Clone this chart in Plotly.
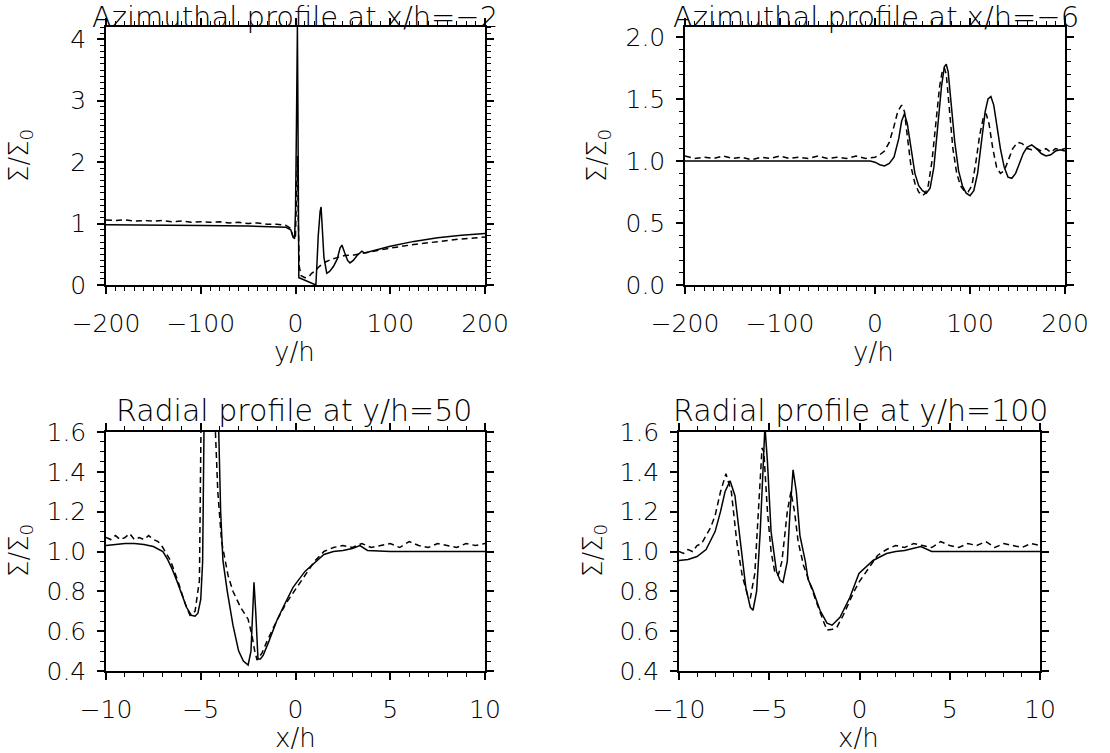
import plotly.graph_objects as go

W, H = 1110, 753

# ---------------- Data ----------------
# Panel 1: Azimuthal profile at x/h=-2
p1_y_solid = [-200, -150, -100, -50, -20, -10, -5, -3, -1, 0, 1, 2, 2.5, 3, 3.5, 5, 10, 15, 20, 21.5,
              22.5, 24, 26, 27, 28, 30, 33, 36, 40, 44, 47, 49, 52, 55, 57.5, 61, 65, 70, 73, 80,
              100, 125, 150, 175, 200]
p1_s_solid = [0.98, 0.98, 0.97, 0.96, 0.95, 0.94, 0.9, 0.8, 0.75, 1.2, 2.6, 4.2, 3.0, 0.6, 0.12, 0.11, 0.08, 0.05, 0.02, 0.0,
              0.3, 0.8, 1.2, 1.27, 1.0, 0.45, 0.19, 0.22, 0.3, 0.42, 0.6, 0.65, 0.52, 0.4, 0.36, 0.4, 0.48, 0.55, 0.52, 0.55,
              0.63, 0.71, 0.77, 0.81, 0.84]

p1_y_dash = [-200, -190, -180, -170, -160, -150, -140, -130, -120, -110, -100, -90, -80, -70, -60, -50, -40, -30, -20, -10,
             -5, -2, 0, 1, 2, 3, 4, 6, 10, 14, 17, 20, 25, 31, 38, 45, 52, 62, 75, 90, 100, 125, 150, 175, 200]
p1_s_dash = [1.06, 1.05, 1.06, 1.04, 1.05, 1.04, 1.05, 1.03, 1.04, 1.02, 1.03, 1.02, 1.03, 1.01, 1.02, 1.0, 1.01, 0.99, 0.99, 0.97,
             0.92, 0.75, 0.8, 1.5, 2.1, 1.0, 0.3, 0.15, 0.12, 0.13, 0.19, 0.22, 0.3, 0.37, 0.42, 0.45, 0.48, 0.49, 0.53, 0.57, 0.6, 0.66, 0.71, 0.75, 0.78]

# Panel 2: Azimuthal profile at x/h=-6
p2_y_solid = [-200, -100, -50, -20, -5, 0, 5, 10, 15, 20, 25, 28, 31, 34, 38, 42, 46, 50, 54, 58, 62, 66, 70, 73, 75,
              77, 80, 84, 88, 92, 96, 100, 104, 108, 112, 116, 119, 122, 125, 128, 132, 136, 140, 144, 148, 152, 156,
              160, 165, 170, 175, 180, 185, 190, 195, 200]
p2_s_solid = [1.0, 1.0, 1.0, 1.0, 1.0, 0.99, 0.97, 0.96, 0.98, 1.03, 1.18, 1.32, 1.38, 1.3, 1.08, 0.9, 0.8, 0.76, 0.74, 0.78,
              0.95, 1.25, 1.6, 1.76, 1.78, 1.72, 1.5, 1.15, 0.92, 0.8, 0.74, 0.72, 0.76, 0.9, 1.15, 1.4, 1.5, 1.52, 1.45, 1.3,
              1.1, 0.95, 0.87, 0.86, 0.9, 0.98, 1.06, 1.11, 1.13, 1.1, 1.06, 1.04, 1.05, 1.08, 1.09, 1.08]

p2_y_dash = [-200, -190, -180, -170, -160, -150, -140, -130, -120, -110, -100, -90, -80, -70, -60, -50, -40, -30, -20, -10,
             0, 5, 10, 15, 20, 24, 28, 31, 34, 38, 42, 46, 50, 53, 56, 60, 64, 68, 71, 73, 75, 78, 82, 86, 90, 94, 98,
             102, 106, 110, 114, 117, 120, 124, 128, 132, 136, 140, 145, 150, 155, 160, 165, 170, 175, 180, 185, 190, 195, 200]
p2_s_dash = [1.04, 1.02, 1.03, 1.02, 1.04, 1.02, 1.03, 1.01, 1.03, 1.02, 1.04, 1.02, 1.03, 1.02, 1.04, 1.02, 1.03, 1.02, 1.04, 1.02,
             1.03, 1.05, 1.08, 1.15, 1.28, 1.4, 1.45, 1.4, 1.2, 0.95, 0.82, 0.75, 0.72, 0.74, 0.8, 1.0, 1.3, 1.6, 1.73, 1.75,
             1.7, 1.45, 1.1, 0.9, 0.8, 0.76, 0.75, 0.8, 0.98, 1.2, 1.35, 1.38, 1.3, 1.1, 0.95, 0.9, 0.92, 1.0, 1.1, 1.15,
             1.14, 1.1, 1.09, 1.1, 1.08, 1.1, 1.07, 1.1, 1.09, 1.1]

# Panel 3: Radial profile at y/h=50
p3_x_solid = [-10, -9.5, -9, -8.5, -8, -7.5, -7, -6.75, -6.5, -6.25, -6, -5.75, -5.5, -5.3, -5.15, -5.0, -4.9, -4.83,
              -4.5, -4.2, -4.05, -3.95, -3.83, -3.6, -3.3, -3.0, -2.75, -2.5, -2.35, -2.25, -2.19, -2.1, -1.98, -1.85,
              -1.7, -1.4, -0.98, -0.6, -0.13, 0.5, 1.13, 1.5, 2.0, 2.5, 3.0, 3.4, 3.8, 4.5, 5, 6, 7, 8, 9, 10]
p3_s_solid = [1.03, 1.035, 1.04, 1.04, 1.035, 1.025, 1.0, 0.96, 0.91, 0.85, 0.78, 0.72, 0.68, 0.675, 0.69, 0.76, 0.95, 1.6,
              2.5, 2.0, 1.6, 1.2, 0.955, 0.8, 0.63, 0.5, 0.45, 0.43, 0.5, 0.7, 0.845, 0.7, 0.46, 0.46,
              0.48, 0.55, 0.655, 0.73, 0.82, 0.9, 0.955, 0.985, 1.0, 1.005, 1.015, 1.03, 1.005, 1.0, 1.0, 1.0, 1.0, 1.0, 1.0, 1.0]

p3_x_dash = [-10, -9.75, -9.5, -9.25, -9, -8.75, -8.5, -8.25, -8, -7.75, -7.5, -7.25, -7, -6.8, -6.6, -6.2, -5.83, -5.57,
             -5.3, -5.07, -4.99, -4.6, -4.25, -4.1, -3.9, -3.7, -3.56, -3.3, -2.9, -2.5, -2.3, -2.15, -2.03, -1.77, -1.5,
             -1.0, -0.5, 0, 0.5, 1.0, 1.5, 2.0, 2.5, 3.0, 3.5, 4.0, 4.5, 5.0, 5.5, 6.0, 6.5, 7.0, 7.5, 8.0, 8.5, 9.0, 9.5, 10]
p3_s_dash = [1.07, 1.06, 1.08, 1.06, 1.07, 1.09, 1.06, 1.07, 1.06, 1.08, 1.06, 1.05, 1.02, 0.99, 0.955, 0.85, 0.74, 0.68,
             0.7, 0.855, 1.6, 2.5, 1.6, 1.3, 1.05, 0.95, 0.88, 0.8, 0.72, 0.66, 0.58, 0.5, 0.455, 0.49, 0.55,
             0.65, 0.74, 0.81, 0.88, 0.95, 1.0, 1.02, 1.03, 1.02, 1.04, 1.02, 1.03, 1.04, 1.02, 1.05, 1.03, 1.02, 1.04, 1.03, 1.02, 1.04, 1.03, 1.04]

# Panel 4: Radial profile at y/h=100
p4_x_solid = [-10, -9.5, -9, -8.5, -8, -7.7, -7.45, -7.17, -6.9, -6.6, -6.3, -6.05, -5.9, -5.7, -5.5, -5.35, -5.24,
              -5.1, -4.9, -4.6, -4.4, -4.24, -4.0, -3.85, -3.68, -3.5, -3.3, -3.0, -2.85, -2.6, -2.19, -1.8, -1.52,
              -1.08, -0.53, -0.03, 0.75, 1.5, 2.0, 2.5, 3.0, 3.4, 4.0, 5, 6, 7, 8, 9, 10]
p4_s_solid = [0.955, 0.96, 0.975, 1.01, 1.1, 1.2, 1.3, 1.355, 1.28, 1.05, 0.82, 0.72, 0.705, 0.8, 1.1, 1.4, 1.63,
              1.45, 1.1, 0.9, 0.855, 0.845, 0.95, 1.2, 1.41, 1.3, 1.08, 0.95, 0.86, 0.81, 0.705, 0.64, 0.63,
              0.67, 0.77, 0.89, 0.955, 0.99, 1.0, 1.005, 1.015, 1.025, 1.0, 1.0, 1.0, 1.0, 1.0, 1.0, 1.0]

p4_x_dash = [-10, -9.75, -9.5, -9.25, -9, -8.75, -8.5, -8.25, -8, -7.7, -7.4, -7.1, -6.8, -6.5, -6.2, -6.05, -5.8, -5.6,
             -5.4, -5.3, -5.1, -4.9, -4.7, -4.5, -4.3, -4.0, -3.8, -3.6, -3.4, -3.1, -2.8, -2.4, -2.0, -1.8, -1.5,
             -1.25, -0.9, -0.7, -0.3, 0, 0.3, 0.6, 1.0, 1.5, 2.0, 2.5, 3.0, 3.5, 4.0, 4.5, 5.0, 5.5, 6.0, 6.5, 7.0,
             7.5, 8.0, 8.5, 9.0, 9.5, 10]
p4_s_dash = [1.0, 0.99, 1.01, 1.0, 1.03, 1.04, 1.08, 1.12, 1.18, 1.3, 1.39, 1.3, 1.05, 0.88, 0.78, 0.765, 0.89, 1.2,
             1.52, 1.5, 1.2, 1.0, 0.9, 0.88, 0.95, 1.2, 1.3, 1.2, 1.05, 0.93, 0.85, 0.75, 0.65, 0.605, 0.61,
             0.62, 0.68, 0.72, 0.8, 0.85, 0.89, 0.93, 0.98, 1.01, 1.03, 1.02, 1.04, 1.03, 1.02, 1.05, 1.03, 1.02, 1.04, 1.03, 1.05,
             1.02, 1.04, 1.03, 1.02, 1.04, 1.03]

titles = ["Azimuthal profile at x/h=\u22122", "Azimuthal profile at x/h=\u22126",
          "Radial profile at y/h=50", "Radial profile at y/h=100"]
xlabels = ["y/h", "y/h", "x/h", "x/h"]
ylabel = "\u03a3/\u03a3<sub>0</sub>"

# ---------------- Figure ----------------
FONT = "DejaVu Sans"
WEIGHT = 200
fig = go.Figure()

panels = [
    (p1_y_solid, p1_s_solid, p1_y_dash, p1_s_dash),
    (p2_y_solid, p2_s_solid, p2_y_dash, p2_s_dash),
    (p3_x_solid, p3_s_solid, p3_x_dash, p3_s_dash),
    (p4_x_solid, p4_s_solid, p4_x_dash, p4_s_dash),
]
for i, (xs, ys, xd, yd) in enumerate(panels):
    ax = "" if i == 0 else str(i + 1)
    fig.add_trace(go.Scatter(x=xs, y=ys, mode="lines", line=dict(color="black", width=1.5),
                             xaxis="x" + ax, yaxis="y" + ax, showlegend=False, cliponaxis=True))
    fig.add_trace(go.Scatter(x=xd, y=yd, mode="lines", line=dict(color="black", width=1.5, dash="6px,4px"),
                             xaxis="x" + ax, yaxis="y" + ax, showlegend=False, cliponaxis=True))

# pixel boxes (left, right, top, bottom)
boxes = [(106, 485, 27, 285), (685, 1065, 27, 285), (106, 485, 432, 671), (679, 1040, 432, 671)]
xranges = [[-200, 200], [-200, 200], [-10, 10], [-10, 10]]
yranges = [[0, 4.2], [0, 2.08], [0.4, 1.6], [0.4, 1.6]]
xdt = [100, 100, 5, 5]
xminor = [10, 10, 1, 1]
ydt = [1, 0.5, 0.2, 0.2]
yminor = [0.1, 0.1, 0.05, 0.05]
yfmt = ["d", ".1f", ".1f", ".1f"]

common = dict(showline=True, linecolor="black", linewidth=1.5, mirror="allticks", ticks="outside",
              ticklen=7, tickwidth=1.5, tickcolor="black", showgrid=False, zeroline=False,
              automargin=False,
              tickfont=dict(family=FONT, size=25, color="black", weight=WEIGHT))

layout = {}
for i in range(4):
    l, r, t, b = boxes[i]
    sfx = "" if i == 0 else str(i + 1)
    layout["xaxis" + sfx] = dict(
        common, domain=[l / W, r / W], anchor="y" + sfx, range=xranges[i], dtick=xdt[i], tick0=0,
        minor=dict(ticks="outside", ticklen=4, tickwidth=1, tickcolor="black", dtick=xminor[i]),
        ticklabelstandoff=8,
    )
    layout["yaxis" + sfx] = dict(
        common, domain=[1 - b / H, 1 - t / H], anchor="x" + sfx, range=yranges[i], dtick=ydt[i], tick0=0,
        tickformat=yfmt[i],
        minor=dict(ticks="outside", ticklen=4, tickwidth=1, tickcolor="black", dtick=yminor[i]),
        ticklabelstandoff=6,
    )

fig.update_layout(**layout)
fig.update_layout(width=W, height=H, margin=dict(l=0, r=0, t=0, b=0, autoexpand=False),
                  paper_bgcolor="white", plot_bgcolor="white", showlegend=False)

def ann(x, y, text, size, angle=0):
    fig.add_annotation(x=x / W, y=1 - y / H, xref="paper", yref="paper", text=text, showarrow=False,
                       xanchor="center", yanchor="middle", textangle=angle,
                       font=dict(family=FONT, size=size, color="black", weight=WEIGHT))

title_pos = [(295, 17), (876, 17), (294, 411), (860, 411)]
title_size = [29, 29, 30, 30]
for (cx, cy), txt, sz in zip(title_pos, titles, title_size):
    ann(cx, cy, txt, sz)

xlab_pos = [(294, 352), (873, 352), (295, 738), (858, 738)]
for (cx, cy), txt in zip(xlab_pos, xlabels):
    ann(cx, cy, txt, 26)

ylab_pos = [(20, 156), (598, 156), (20, 551), (594, 551)]
for (cx, cy) in ylab_pos:
    ann(cx, cy, ylabel, 26, angle=-90)

fig.write_html("out.html")
